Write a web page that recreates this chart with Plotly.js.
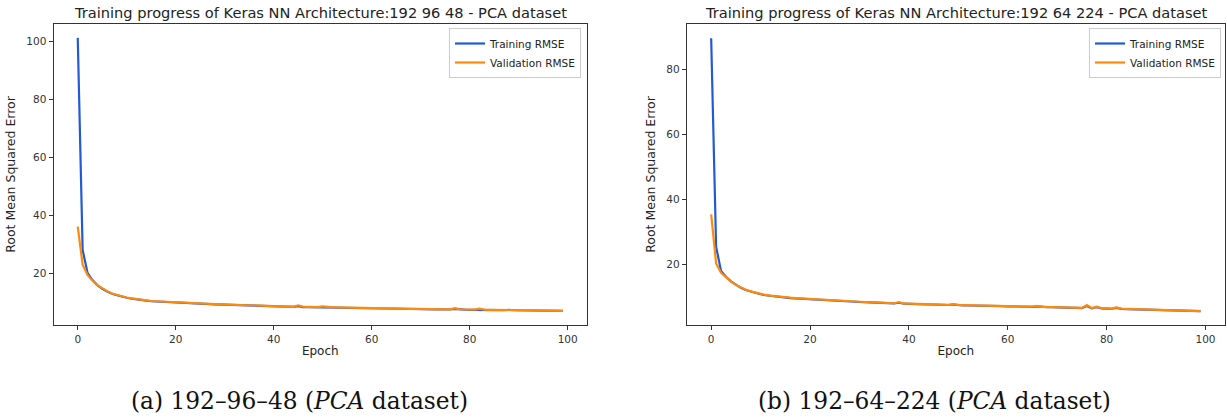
<!DOCTYPE html>
<html>
<head>
<meta charset="utf-8">
<script src="https://cdn.plot.ly/plotly-3.0.1.min.js"></script>
<style>
html,body{margin:0;padding:0;background:#fff;}
#chart{width:1227px;height:419px;}
</style>
</head>
<body>
<div id="chart"></div>
<script>
// ---------- data ----------
const epochs = Array.from({length: 100}, (_, i) => i);

const titleA = "Training progress of Keras NN Architecture:192 96 48 - PCA dataset";
const titleB = "Training progress of Keras NN Architecture:192 64 224 - PCA dataset";
const captionA = "(a) 192–96–48 (<i>PCA</i> dataset)";
const captionB = "(b) 192–64–224 (<i>PCA</i> dataset)";
const seriesNames = ["Training RMSE", "Validation RMSE"];
const xTicks = [0, 20, 40, 60, 80, 100];
const yTicksA = [20, 40, 60, 80, 100];
const yTicksB = [20, 40, 60, 80];

const trainA = [
 101.3, 28.0, 20.1, 17.6, 15.9, 14.6, 13.7, 12.9, 12.4, 11.9,
 11.5, 11.2, 10.9, 10.7, 10.5, 10.3, 10.2, 10.05, 9.95, 9.85,
 9.75, 9.7, 9.6, 9.55, 9.5, 9.4, 9.35, 9.3, 9.25, 9.2,
 9.1, 9.05, 9.0, 8.95, 8.9, 8.85, 8.8, 8.75, 8.7, 8.6,
 8.5, 8.45, 8.4, 8.4, 8.35, 8.6, 8.3, 8.3, 8.25, 8.2,
 8.3, 8.2, 8.15, 8.1, 8.1, 8.05, 8.0, 8.0, 7.95, 7.9,
 7.85, 7.85, 7.8, 7.8, 7.75, 7.7, 7.7, 7.65, 7.65, 7.6,
 7.6, 7.55, 7.55, 7.5, 7.5, 7.45, 7.45, 7.65, 7.4, 7.4,
 7.35, 7.35, 7.5, 7.3, 7.3, 7.25, 7.25, 7.2, 7.35, 7.2,
 7.15, 7.15, 7.1, 7.1, 7.1, 7.05, 7.05, 7.0, 7.0, 6.95
];
const valA = [
 36.1, 22.9, 19.4, 17.4, 15.9, 14.7, 13.8, 13.0, 12.5, 12.0,
 11.6, 11.3, 11.0, 10.8, 10.6, 10.4, 10.3, 10.15, 10.05, 9.95,
 9.85, 9.75, 9.7, 9.6, 9.55, 9.5, 9.4, 9.35, 9.3, 9.25,
 9.2, 9.1, 9.05, 9.0, 8.95, 8.9, 8.85, 8.8, 8.7, 8.65,
 8.55, 8.5, 8.5, 8.45, 8.4, 8.9, 8.4, 8.35, 8.3, 8.3,
 8.5, 8.25, 8.2, 8.2, 8.15, 8.1, 8.1, 8.05, 8.0, 7.95,
 7.95, 7.9, 7.9, 7.85, 7.8, 7.8, 7.75, 7.75, 7.7, 7.7,
 7.65, 7.65, 7.6, 7.6, 7.55, 7.55, 7.5, 7.9, 7.5, 7.45,
 7.45, 7.4, 7.75, 7.4, 7.35, 7.35, 7.3, 7.3, 7.5, 7.25,
 7.25, 7.2, 7.2, 7.2, 7.15, 7.15, 7.1, 7.1, 7.05, 7.0
];
const trainB = [
 89.7, 25.5, 18.1, 16.3, 14.9, 13.8, 12.9, 12.2, 11.7, 11.3,
 10.9, 10.6, 10.4, 10.2, 10.0, 9.85, 9.75, 9.65, 9.55, 9.45,
 9.35, 9.25, 9.15, 9.05, 8.95, 8.9, 8.8, 8.75, 8.65, 8.6,
 8.5, 8.45, 8.4, 8.3, 8.25, 8.2, 8.15, 8.1, 8.3, 8.0,
 7.95, 7.9, 7.85, 7.8, 7.75, 7.7, 7.7, 7.65, 7.6, 7.75,
 7.55, 7.5, 7.45, 7.45, 7.4, 7.35, 7.35, 7.3, 7.25, 7.25,
 7.2, 7.15, 7.15, 7.1, 7.05, 7.05, 7.2, 7.0, 6.95, 6.95,
 6.85, 6.8, 6.75, 6.75, 6.7, 6.65, 7.3, 6.6, 6.9, 6.55,
 6.5, 6.45, 6.7, 6.4, 6.35, 6.3, 6.3, 6.25, 6.2, 6.15,
 6.15, 6.1, 6.05, 6.0, 5.95, 5.9, 5.85, 5.8, 5.75, 5.7
];
const valB = [
 35.5, 20.4, 17.5, 16.0, 14.8, 13.8, 13.0, 12.3, 11.8, 11.4,
 11.0, 10.7, 10.5, 10.3, 10.1, 9.95, 9.85, 9.75, 9.65, 9.55,
 9.45, 9.35, 9.25, 9.15, 9.05, 8.95, 8.9, 8.8, 8.75, 8.65,
 8.6, 8.5, 8.45, 8.4, 8.3, 8.25, 8.2, 8.15, 8.5, 8.05,
 8.0, 7.95, 7.9, 7.85, 7.8, 7.8, 7.75, 7.7, 7.65, 7.9,
 7.6, 7.55, 7.5, 7.5, 7.45, 7.4, 7.4, 7.35, 7.3, 7.3,
 7.25, 7.2, 7.2, 7.15, 7.1, 7.1, 7.35, 7.05, 7.0, 7.0,
 6.9, 6.85, 6.8, 6.8, 6.75, 6.7, 7.6, 6.65, 7.1, 6.6,
 6.55, 6.5, 6.85, 6.45, 6.4, 6.35, 6.35, 6.3, 6.25, 6.2,
 6.2, 6.15, 6.1, 6.05, 6.0, 5.95, 5.9, 5.85, 5.8, 5.75
];

// ---------- style ----------
const BLUE = "#2259d6";
const ORANGE = "#ff8a0a";
const FONT = "DejaVu Sans";
const AXCOL = "#333333";

function line(x, y, name, color, xa, ya, legend, show) {
  return {x: x, y: y, name: name, type: "scatter", mode: "lines",
          line: {color: color, width: 2.2}, xaxis: xa, yaxis: ya,
          legend: legend, showlegend: show, hoverinfo: "skip"};
}

const traces = [
  line(epochs, trainA, seriesNames[0], BLUE, "x", "y", "legend", true),
  line(epochs, valA, seriesNames[1], ORANGE, "x", "y", "legend", true),
  line(epochs, trainB, seriesNames[0], BLUE, "x2", "y2", "legend2", true),
  line(epochs, valB, seriesNames[1], ORANGE, "x2", "y2", "legend2", true)
];

function xax(domain, anchor) {
  return {domain: domain, anchor: anchor, range: [-4.95, 103.95],
    tickvals: xTicks, ticktext: xTicks.map(String),
    ticks: "outside", ticklen: 4, tickwidth: 1, tickcolor: AXCOL,
    showline: true, linecolor: AXCOL, linewidth: 1, mirror: true,
    showgrid: false, zeroline: false,
    tickfont: {family: FONT, size: 10.5, color: AXCOL},
    title: {text: "Epoch", font: {family: FONT, size: 12, color: "#222"}, standoff: 3}};
}
function yax(domain, anchor, range, ticks) {
  return {domain: domain, anchor: anchor, range: range,
    tickvals: ticks, ticktext: ticks.map(String),
    ticks: "outside", ticklen: 4, tickwidth: 1, tickcolor: AXCOL,
    showline: true, linecolor: AXCOL, linewidth: 1, mirror: true,
    showgrid: false, zeroline: false,
    tickfont: {family: FONT, size: 10.5, color: AXCOL},
    title: {text: "Root Mean Squared Error", font: {family: FONT, size: 12.5, color: "#222"}, standoff: 7}};
}

const W = 1227, H = 419;
const yDom = [1 - 325 / H, 1 - 24 / H];

const legendStyle = {bgcolor: "rgba(255,255,255,0.8)", bordercolor: "#cccccc", borderwidth: 1,
    font: {family: FONT, size: 10.5, color: "#222"}, tracegroupgap: 0, itemwidth: 30,
    xanchor: "right", yanchor: "top"};

const layout = {
  width: W, height: H,
  margin: {l: 0, r: 0, t: 0, b: 0},
  paper_bgcolor: "#ffffff", plot_bgcolor: "#ffffff",
  xaxis: xax([53.5 / W, 587 / W], "y"),
  yaxis: yax(yDom, "x", [2.1, 106.1], yTicksA),
  xaxis2: xax([686.7 / W, 1225 / W], "y2"),
  yaxis2: yax(yDom, "x2", [1.45, 94.1], yTicksB),
  legend: Object.assign({x: 581 / W, y: 1 - 28 / H}, legendStyle),
  legend2: Object.assign({x: 1221 / W, y: 1 - 28 / H}, legendStyle),
  annotations: [
    {text: titleA, xref: "paper", yref: "paper", x: 320 / W, y: 1 - 13 / H,
     xanchor: "center", yanchor: "middle", showarrow: false,
     font: {family: FONT, size: 14.6, color: "#222"}},
    {text: titleB, xref: "paper", yref: "paper", x: 956 / W, y: 1 - 13 / H,
     xanchor: "center", yanchor: "middle", showarrow: false,
     font: {family: FONT, size: 14.6, color: "#222"}},
    {text: captionA, xref: "paper", yref: "paper", x: 299 / W, y: 1 - 400 / H,
     xanchor: "center", yanchor: "middle", showarrow: false,
     font: {family: "DejaVu Serif", size: 23.3, color: "#111"}},
    {text: captionB, xref: "paper", yref: "paper", x: 934 / W, y: 1 - 400 / H,
     xanchor: "center", yanchor: "middle", showarrow: false,
     font: {family: "DejaVu Serif", size: 23.3, color: "#111"}}
  ]
};

Plotly.newPlot("chart", traces, layout, {staticPlot: true, displayModeBar: false});
</script>
</body>
</html>
